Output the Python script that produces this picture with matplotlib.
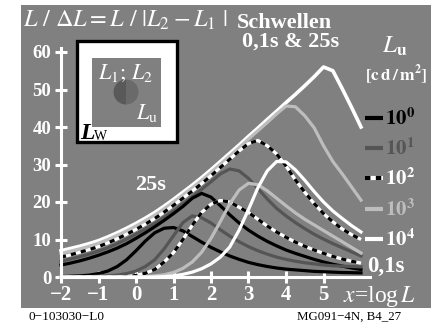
import matplotlib

matplotlib.use("Agg")
import matplotlib.pyplot as plt
from matplotlib.patches import Rectangle, Wedge

plt.rcParams["font.family"] = ["Liberation Serif", "DejaVu Serif"]
plt.rcParams["mathtext.fontset"] = "stix"

# x = log L, Schritt 0.25
x = [-2, -1.75, -1.5, -1.25, -1, -0.75, -0.5, -0.25, 0, 0.25, 0.5, 0.75, 1, 1.25, 1.5, 1.75, 2,
     2.25, 2.5, 2.75, 3, 3.25, 3.5, 3.75, 4, 4.25, 4.5, 4.75, 5, 5.25, 5.5, 5.75, 6]

# Schwellen 25s (L/dL), Lu = 10^0 ... 10^4
s25_lu0 = [3.2, 3.7, 4.3, 5.0, 5.8, 6.7, 7.7, 8.9, 10.3, 11.8, 13.4, 15.1, 16.9, 18.8, 21.0, 22.3, 21.3,
           19.0, 16.6, 14.4, 12.5, 10.9, 9.5, 8.3, 7.2, 6.3, 5.5, 4.7, 4.0, 3.4, 2.9, 2.4, 2.0]
s25_lu1 = [4.2, 4.8, 5.4, 6.1, 6.9, 7.8, 8.9, 10.1, 11.4, 12.8, 14.3, 15.9, 17.6, 19.5, 21.4, 23.4, 25.4,
           27.5, 28.8, 28.3, 26.3, 23.6, 20.8, 18.3, 16.3, 14.5, 12.9, 11.4, 10.1, 8.9, 7.8, 6.7, 5.6]
s25_lu2 = [5.3, 5.9, 6.6, 7.3, 8.1, 9.1, 10.2, 11.4, 12.7, 14.1, 15.6, 17.3, 19.1, 21.0, 22.9, 24.9, 27.0,
           29.2, 31.4, 33.6, 35.6, 36.4, 35.0, 32.8, 29.6, 25.9, 22.6, 19.6, 16.9, 14.7, 12.8, 11.3, 10.0]
s25_lu3 = [6.3, 6.9, 7.5, 8.2, 9.0, 10.0, 11.1, 12.3, 13.6, 15.0, 16.5, 18.2, 20.0, 21.9, 23.8, 25.8, 27.9,
           30.1, 32.3, 34.5, 36.8, 39.0, 41.2, 43.5, 45.6, 45.4, 43.0, 39.8, 35.0, 30.8, 27.5, 24.0, 20.5]
s25_lu4 = [7.0, 7.6, 8.2, 8.9, 9.7, 10.7, 11.8, 13.0, 14.3, 15.7, 17.2, 18.9, 20.7, 22.6, 24.5, 26.5, 28.6,
           30.8, 33.0, 35.2, 37.5, 39.7, 42.0, 44.2, 46.5, 48.7, 51.0, 53.4, 56.0, 55.0, 50.2, 45.2, 40.0]

# Schwellen 0,1s
s01_lu0 = [0.1, 0.2, 0.3, 0.5, 0.9, 1.6, 2.8, 4.6, 7.0, 9.6, 11.8, 13.0, 13.2, 12.3, 10.8, 9.3, 7.9,
           6.7, 5.6, 4.7, 3.9, 3.3, 2.8, 2.4, 2.1, 1.9, 1.7, 1.5, 1.4, 1.3, 1.2, 1.15, 1.1]
s01_lu1 = [0.0, 0.0, 0.05, 0.1, 0.2, 0.3, 0.5, 0.9, 1.6, 2.8, 4.6, 7.5, 11.0, 14.5, 16.3, 15.8, 14.4,
           12.6, 10.9, 9.4, 8.1, 7.0, 6.1, 5.3, 4.7, 4.2, 3.8, 3.5, 3.2, 3.0, 2.9, 2.8, 2.7]
s01_lu2 = [0.0, 0.0, 0.0, 0.0, 0.0, 0.0, 0.0, 0.1, 0.4, 1.0, 2.0, 4.0, 6.5, 10.0, 13.8, 17.2, 19.4,
           20.4, 20.0, 18.6, 17.2, 15.4, 13.6, 12.0, 10.6, 9.3, 8.2, 7.2, 6.3, 5.5, 4.8, 4.2, 3.7]
s01_lu3 = [0.0, 0.0, 0.0, 0.0, 0.0, 0.0, 0.0, 0.0, 0.0, 0.1, 0.3, 0.6, 1.2, 2.3, 4.0, 6.6, 10.3,
           14.8, 19.5, 23.2, 25.0, 24.6, 23.0, 21.0, 19.0, 17.1, 15.4, 13.9, 12.4, 10.9, 9.4, 7.9, 6.4]
s01_lu4 = [0.0, 0.0, 0.0, 0.0, 0.0, 0.0, 0.0, 0.0, 0.0, 0.0, 0.0, 0.1, 0.3, 0.7, 1.3, 2.2, 3.5,
           5.3, 8.0, 12.5, 18.0, 23.8, 28.3, 30.8, 30.7, 28.6, 25.8, 22.8, 20.0, 17.6, 15.6, 13.7, 12.0]

lu_labels = ["0", "1", "2", "3", "4"]
x_ticks = [-2, -1, 0, 1, 2, 3, 4, 5]
y_ticks = [0, 10, 20, 30, 40, 50, 60]

BG = "#808080"
DARK = "#555555"
LIGHT = "#bdbdbd"
styles = ["black", DARK, "dashed", LIGHT, "white"]

W, H = 435, 325
fig = plt.figure(figsize=(W / 100, H / 100), dpi=100)
fig.patch.set_facecolor("white")

# px-Abbildung: x_px = 136 + 37.5*x, y_px = 277 - 3.75*y
ax = fig.add_axes([21 / W, (H - 308) / H, 410 / W, 303 / H])
ax.set_facecolor(BG)
ax.set_xlim((21 - 136) / 37.5, (431 - 136) / 37.5)
ax.set_ylim((277 - 308) / 3.75, (277 - 5) / 3.75)


def draw(ys, style, lw=2.3, z=2):
    if style == "dashed":
        ax.plot(x, ys, color="white", lw=lw, zorder=z, solid_capstyle="butt")
        ax.plot(x, ys, color="black", lw=lw, zorder=z, dashes=(1.6, 1.6))
    else:
        ax.plot(x, ys, color=style, lw=lw, zorder=z)


s25 = [s25_lu0, s25_lu1, s25_lu2, s25_lu3, s25_lu4]
s01 = [s01_lu0, s01_lu1, s01_lu2, s01_lu3, s01_lu4]
for i in (4, 3, 2, 1, 0):
    draw(s25[i], styles[i], lw=2.6 if i == 4 else 2.3, z=2 + (4 - i) * 0.1)
for i in range(5):
    draw(s01[i], styles[i], z=3 + i * 0.1)

# Achsen
for side in ("top", "right"):
    ax.spines[side].set_visible(False)
ax.spines["left"].set_position(("data", -2))
ax.spines["bottom"].set_position(("data", 0))
ax.spines["left"].set_bounds(0, 61.2)
ax.spines["bottom"].set_bounds(-2, 6.25)
for side in ("left", "bottom"):
    ax.spines[side].set_color("white")
    ax.spines[side].set_linewidth(2.2)
    ax.spines[side].set_zorder(6)
ax.set_xticks(x_ticks)
ax.set_yticks(y_ticks)
ax.tick_params(axis="both", direction="inout", color="white", width=2.2, length=8, labelcolor="white")
ax.tick_params(axis="x", pad=2, labelsize=15)
ax.tick_params(axis="y", pad=3, labelsize=13.5)
for lab in ax.get_xticklabels() + ax.get_yticklabels():
    lab.set_fontweight("bold")

# Overlay in Pixelkoordinaten
ov = fig.add_axes([0, 0, 1, 1], facecolor="none")
ov.set_xlim(0, W)
ov.set_ylim(H, 0)
ov.axis("off")

# Umfeld-Skizze
ov.add_patch(Rectangle((77, 41), 100, 101, facecolor="white", edgecolor="black", lw=2.4, zorder=5))
ov.add_patch(Rectangle((92, 58), 69, 69, facecolor=BG, edgecolor="none", zorder=6))
ov.add_patch(Wedge((126, 92), 12.5, 90, 270, facecolor="#595959", edgecolor="none", zorder=7))
ov.add_patch(Wedge((126, 92), 12.5, -90, 90, facecolor="#6a6a6a", edgecolor="none", zorder=7))
ov.text(126, 73, r"$L_1;\, L_2$", color="white", fontsize=16, ha="center", va="center", zorder=8)
ov.text(147, 113, r"$L_\mathrm{u}$", color="white", fontsize=16, ha="center", va="center", zorder=8)
ov.text(80, 139, "L", color="black", fontsize=17, fontweight="bold", fontstyle="italic", va="baseline", zorder=8)
ov.text(94, 140, "W", color="black", fontsize=10, va="baseline", zorder=8)

# Titel
ov.text(23, 27, r"$L\ /\ \Delta L = L\ /\ |L_2 - L_1\ |$", color="white", fontsize=17.5, va="baseline")
ov.text(237, 28, "Schwellen", color="white", fontsize=16, fontweight="bold", va="baseline")
ov.text(242, 47, "0,1s & 25s", color="white", fontsize=16, fontweight="bold", va="baseline")
ov.text(382, 53, r"$L_\mathbf{u}$", color="white", fontsize=18, va="baseline")
ov.text(396, 81, r"$\mathbf{[c\,d\,/\,m}^{\mathbf{2}}\mathbf{]}$", color="white", fontsize=12.5,
        ha="center", va="baseline")

# Legende
leg_y = [118, 148, 178, 209, 239]
txt_col = ["black", DARK, "white", LIGHT, "white"]
for i, lab in enumerate(lu_labels):
    yy = leg_y[i]
    st = styles[i]
    if st == "dashed":
        ov.plot([365, 383], [yy, yy], color="white", lw=3, solid_capstyle="butt")
        ov.plot([365, 383], [yy, yy], color="black", lw=3, dashes=(1.3, 1.3))
    else:
        ov.plot([365, 383], [yy, yy], color=st, lw=3, solid_capstyle="butt")
    ov.text(385, yy + 7, r"$\mathbf{10}^{\mathbf{%s}}$" % lab, color=txt_col[i], fontsize=15, va="baseline")

ov.text(151, 190, "25s", color="white", fontsize=16, fontweight="bold", ha="center", va="baseline")
ov.text(367, 272, "0,1s", color="white", fontsize=16.5, fontweight="bold", va="baseline")
ov.text(343, 302, r"$x$=log$\,L$", color="white", fontsize=17, va="baseline")

# Fusszeile
ov.text(29, 320, "0−103030−L0", color="black", fontsize=9.5, va="baseline")
ov.text(297, 320, "MG091−4N, B4_27", color="black", fontsize=9.3, va="baseline")

fig.savefig("out.png", dpi=100, facecolor="white")
